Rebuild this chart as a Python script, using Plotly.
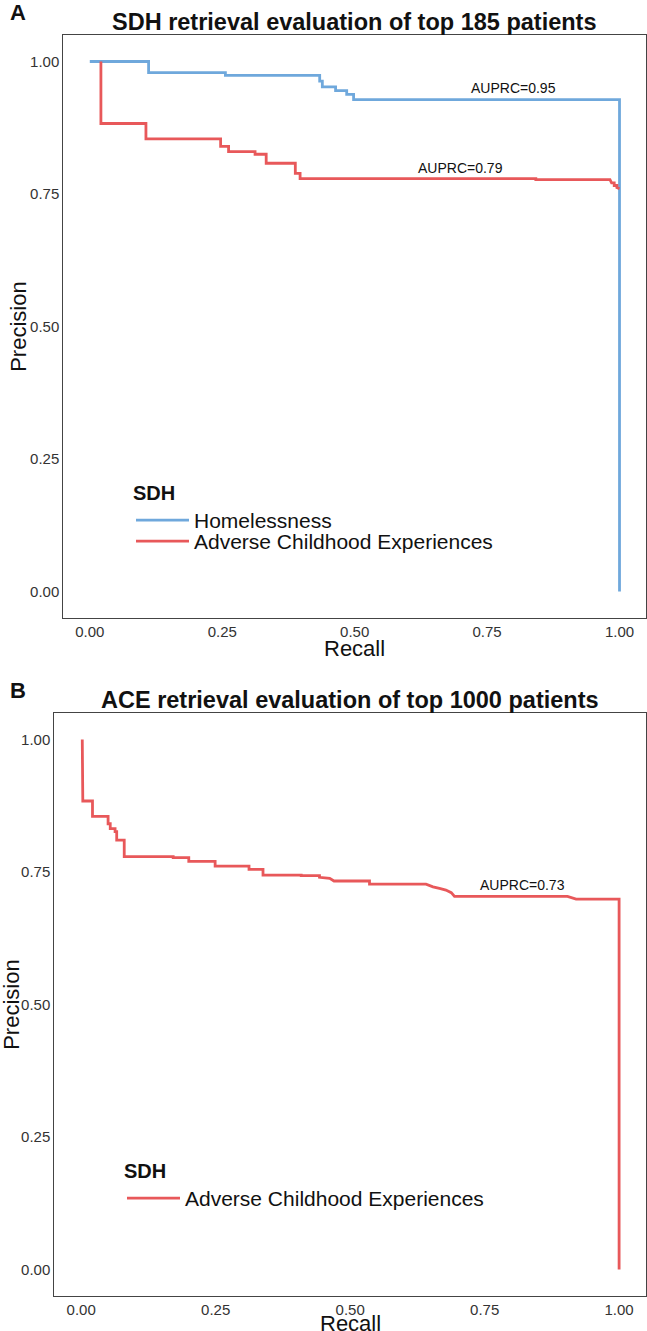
import plotly.graph_objects as go

# ---------------- data ----------------
# Panel A: SDH retrieval, top 185 patients
homeless_recall = [0.0, 0.111, 0.111, 0.256, 0.256, 0.434, 0.434, 0.439, 0.439, 0.464, 0.464,
                   0.485, 0.485, 0.498, 0.498, 1.0, 1.0]
homeless_precision = [1.0, 1.0, 0.979, 0.979, 0.974, 0.974, 0.963, 0.963, 0.952, 0.952, 0.945,
                      0.945, 0.938, 0.938, 0.928, 0.928, 0.0]

aceA_recall = [0.021, 0.021, 0.106, 0.106, 0.247, 0.247, 0.262, 0.262, 0.312, 0.312, 0.333, 0.333,
               0.388, 0.388, 0.397, 0.397, 0.842, 0.842, 0.982, 0.985, 0.99, 0.99, 0.995, 0.995, 1.0]
aceA_precision = [1.0, 0.883, 0.883, 0.854, 0.854, 0.840, 0.840, 0.830, 0.830, 0.825, 0.825, 0.808,
                  0.808, 0.789, 0.789, 0.779, 0.779, 0.777, 0.777, 0.771, 0.771, 0.766, 0.766, 0.762, 0.760]

# Panel B: ACE retrieval, top 1000 patients
aceB_recall = [0.002, 0.003, 0.021, 0.021, 0.050, 0.050, 0.054, 0.054, 0.063, 0.063, 0.066, 0.066,
               0.080, 0.080, 0.171, 0.171, 0.200, 0.200, 0.249, 0.249, 0.312, 0.312, 0.338, 0.338,
               0.409, 0.409, 0.443, 0.443, 0.462, 0.470, 0.536, 0.536, 0.641, 0.654, 0.666, 0.678,
               0.688, 0.694, 0.904, 0.920, 1.0, 1.0]
aceB_precision = [1.0, 0.884, 0.884, 0.855, 0.855, 0.841, 0.841, 0.832, 0.832, 0.826, 0.826, 0.810,
                  0.810, 0.779, 0.779, 0.777, 0.777, 0.770, 0.770, 0.761, 0.761, 0.755, 0.755, 0.744,
                  0.744, 0.743, 0.743, 0.740, 0.738, 0.733, 0.733, 0.727, 0.727, 0.722, 0.719, 0.716,
                  0.711, 0.704, 0.704, 0.699, 0.699, 0.0]

series_names = ["Homelessness", "Adverse Childhood Experiences"]
auprc_labels = ["AUPRC=0.95", "AUPRC=0.79", "AUPRC=0.73"]
auprc_x = [0.80, 0.70, 0.82]
auprc_y = [0.95, 0.80, 0.725]
titles = ["SDH retrieval evaluation of top 185 patients", "ACE retrieval evaluation of top 1000 patients"]
panel_letters = ["A", "B"]
x_title = "Recall"
y_title = "Precision"
tick_vals = [0.0, 0.25, 0.5, 0.75, 1.0]
tick_text = ["0.00", "0.25", "0.50", "0.75", "1.00"]

BLUE = "#6FA8DC"
RED = "#E8585A"
FONT = "Liberation Sans, Arial, Helvetica, sans-serif"
W, H = 647, 1331


def px_x(p):
    return p / W


def px_y(p):
    return (H - p) / H


fig = go.Figure()
fig.add_trace(go.Scatter(x=homeless_recall, y=homeless_precision, mode="lines", name=series_names[0],
                         line=dict(color=BLUE, width=2.8), xaxis="x", yaxis="y", legend="legend",
                         showlegend=True))
fig.add_trace(go.Scatter(x=aceA_recall, y=aceA_precision, mode="lines", name=series_names[1],
                         line=dict(color=RED, width=2.8), xaxis="x", yaxis="y", legend="legend2",
                         showlegend=True))
fig.add_trace(go.Scatter(x=aceB_recall, y=aceB_precision, mode="lines", name=series_names[1],
                         line=dict(color=RED, width=2.8), xaxis="x2", yaxis="y2", legend="legend3",
                         showlegend=True))

axis_common = dict(range=[-0.05, 1.05], tickvals=tick_vals, ticktext=tick_text, showgrid=False,
                   zeroline=False, showline=True, linecolor="#444", linewidth=1, mirror=True,
                   ticks="", automargin=False, tickfont=dict(family=FONT, size=15, color="#333"))

legend_font = dict(family=FONT, size=21, color="#111")
legend_title_font = dict(family=FONT, size=20, color="#111")

fig.update_layout(
    width=W, height=H, autosize=False,
    margin=dict(l=0, r=0, t=0, b=0, autoexpand=False),
    paper_bgcolor="white", plot_bgcolor="white",
    showlegend=True,
    font=dict(family=FONT, color="#111"),
    xaxis=dict(domain=[px_x(63.3), px_x(646.0)], anchor="y", **axis_common),
    yaxis=dict(domain=[px_y(618), px_y(35)], anchor="x", **axis_common),
    xaxis2=dict(domain=[px_x(54.3), px_x(646.0)], anchor="y2", **axis_common),
    yaxis2=dict(domain=[px_y(1296), px_y(713)], anchor="x2", **axis_common),
    legend=dict(x=px_x(131), y=px_y(474), xanchor="left", yanchor="top", bgcolor="rgba(0,0,0,0)",
                title=dict(text="<b>SDH</b>", font=legend_title_font),
                font=legend_font, itemwidth=53, visible=True),
    legend2=dict(x=px_x(131), y=px_y(521), xanchor="left", yanchor="top", bgcolor="rgba(0,0,0,0)",
                 font=legend_font, itemwidth=53, visible=True),
    legend3=dict(x=px_x(122), y=px_y(1152), xanchor="left", yanchor="top", bgcolor="rgba(0,0,0,0)",
                 title=dict(text="<b>SDH</b>", font=legend_title_font),
                 font=legend_font, itemwidth=53, visible=True),
)

annotations = []
for i, (xr, yr) in enumerate([("x", "y"), ("x", "y"), ("x2", "y2")]):
    annotations.append(dict(text=auprc_labels[i], x=auprc_x[i], y=auprc_y[i], xref=xr, yref=yr,
                            showarrow=False, xanchor="center", yanchor="middle",
                            font=dict(family=FONT, size=14, color="#111")))
# panel titles and axis titles, placed relative to each panel's domain
panel_h = 583.0
panel_w = [582.7, 591.7]
recall_below = [30, 27]
precision_left = [45, 43]
for i, (xr, yr) in enumerate([("x domain", "y domain"), ("x2 domain", "y2 domain")]):
    annotations.append(dict(text="<b>" + titles[i] + "</b>", x=0.5, y=1 + 13 / panel_h, xref=xr, yref=yr,
                            showarrow=False, xanchor="center", yanchor="middle",
                            font=dict(family=FONT, size=23.5, color="#111")))
    annotations.append(dict(text=x_title, x=0.5, y=-recall_below[i] / panel_h, xref=xr, yref=yr,
                            showarrow=False, xanchor="center", yanchor="middle",
                            font=dict(family=FONT, size=22, color="#111")))
    annotations.append(dict(text=y_title, x=-precision_left[i] / panel_w[i], y=0.5, xref=xr, yref=yr,
                            textangle=-90, showarrow=False, xanchor="center", yanchor="middle",
                            font=dict(family=FONT, size=22, color="#111")))
for letter, ycen in zip(panel_letters, [13, 691]):
    annotations.append(dict(text="<b>" + letter + "</b>", x=px_x(8), y=px_y(ycen), xref="paper", yref="paper",
                            showarrow=False, xanchor="left", yanchor="middle",
                            font=dict(family=FONT, size=22, color="#111")))
fig.update_layout(annotations=annotations)

# remove the page's default body margin so the figure starts at the window's corner
fig.write_html("out.html", config={"displayModeBar": False},
               post_script="document.body.style.margin = '0';")
